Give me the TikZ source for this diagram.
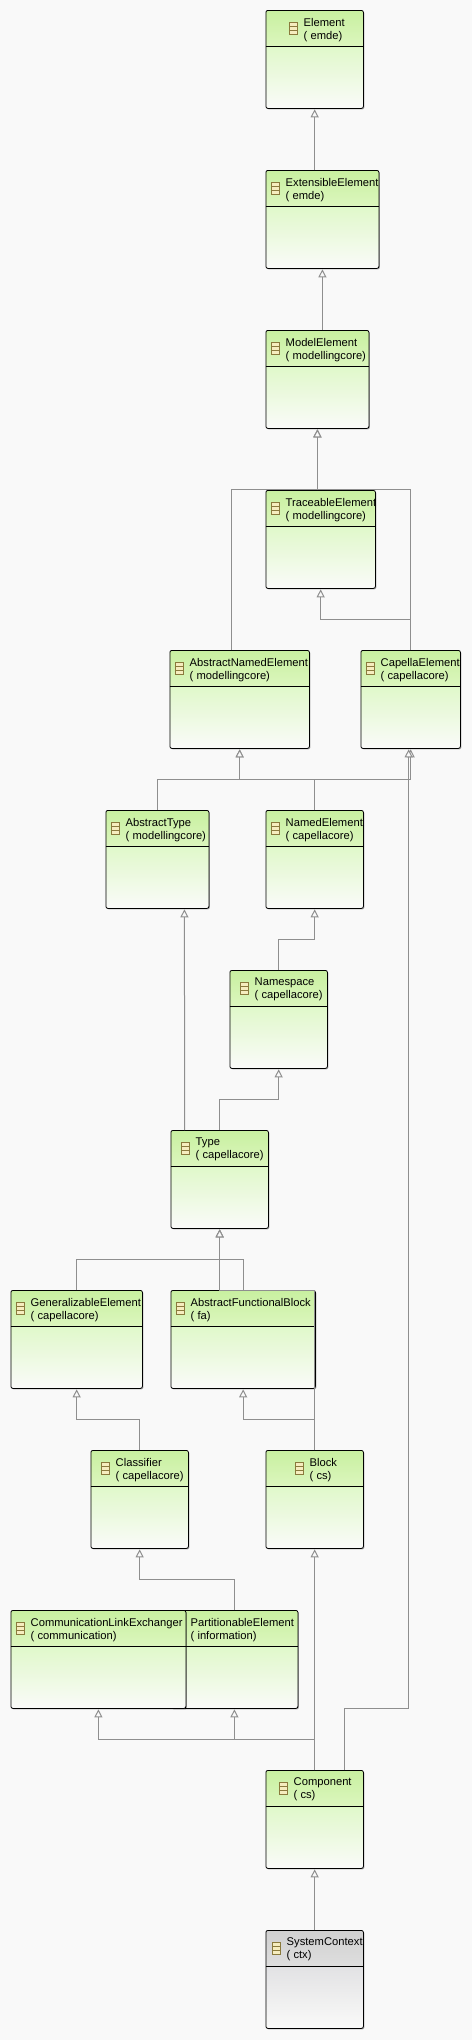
\documentclass[tikz,border=0pt]{standalone}
\usepackage{fontspec}
\usepackage{tikz}
\usetikzlibrary{arrows.meta, shadows}
\setmainfont{Liberation Sans}
\definecolor{DiagBack}{HTML}{F9F9F9}
\definecolor{LinkGray}{HTML}{8F8F8F}
\definecolor{IconFill}{HTML}{F6EDBE}
\definecolor{IconEdge}{HTML}{8A7A3C}
\definecolor{HeadTop}{HTML}{C8F0A0}
\definecolor{HeadLow}{HTML}{DCF6BE}
\definecolor{BodyTop}{HTML}{E0F9CA}
\definecolor{BodyLow}{HTML}{FAFAF9}
\definecolor{GrayTop}{HTML}{D0D0D0}
\definecolor{GrayMid}{HTML}{DEDEDE}
\definecolor{GrayBody}{HTML}{E2E2E4}
\pgfdeclareverticalshading{greenclass}{100bp}{color(0bp)=(BodyLow); color(25bp)=(BodyLow);
  color(56.6bp)=(BodyTop); color(56.61bp)=(HeadLow); color(75bp)=(HeadTop); color(100bp)=(HeadTop)}
\pgfdeclareverticalshading{grayclass}{100bp}{color(0bp)=(BodyLow); color(25bp)=(BodyLow);
  color(56.6bp)=(GrayBody); color(56.61bp)=(GrayMid); color(75bp)=(GrayTop); color(100bp)=(GrayTop)}
% name, left, top, width, icon offset, class, package
\newcommand{\classnode}[8][classbox]{
  \node[#1, minimum width=#5pt] (#2) at (#3,#4) {};
  \draw ([yshift=-36pt]#2.north west) -- ([yshift=-36pt]#2.north east);
  \node[iconbox] (#2icon) at ([xshift=#6pt,yshift=-18.5pt]#2.north west) {};
  \node[classlabel] (#2label) at ([xshift=#6pt+15pt,yshift=-19.7pt]#2.north west) {#7\\( #8)};
}

\begin{document}
\begin{tikzpicture}[x=1pt, y=-1pt,
    classbox/.style={draw=black, line width=0.8pt, rounded corners=2pt, anchor=north west,
                minimum height=98pt, inner sep=0pt, shading=greenclass,
                drop shadow={shadow xshift=1pt, shadow yshift=-1pt, opacity=0.3, fill=black}},
    contextbox/.style={classbox, shading=grayclass},
    iconbox/.style={draw=IconEdge, fill=IconFill, line width=0.7pt, anchor=west,
                minimum width=8.5pt, minimum height=12pt, inner sep=0pt,
                path picture={
                  \draw[IconEdge, line width=0.6pt]
                    ([yshift=2pt]path picture bounding box.west) -- ([yshift=2pt]path picture bounding box.east)
                    ([yshift=-2pt]path picture bounding box.west) -- ([yshift=-2pt]path picture bounding box.east);}},
    classlabel/.style={anchor=west, align=left, inner sep=0pt,
                font=\fontsize{11.2}{13}\selectfont},
    gen/.style={draw=LinkGray, line width=1pt,
                -{Triangle[open, length=8pt, width=8pt, fill=DiagBack]}, shorten >=0.5pt}]
  \fill[DiagBack] (0,0) rectangle (472,2040);
  \useasboundingbox (0,0) rectangle (472,2040);

  \classnode{element}{265.5}{10}{97.5}{23}{Element}{emde}
  \classnode{extensible}{265.5}{170}{113}{5}{ExtensibleElement}{emde}
  \classnode{model}{265.5}{330}{103}{5}{ModelElement}{modellingcore}
  \classnode{traceable}{265.5}{490}{109.5}{5}{TraceableElement}{modellingcore}
  \classnode{abstractnamed}{169.5}{650}{139.5}{5}{AbstractNamedElement}{modellingcore}
  \classnode{capella}{360.5}{650}{99.5}{5}{CapellaElement}{capellacore}
  \classnode{abstracttype}{105.5}{810}{103}{5}{AbstractType}{modellingcore}
  \classnode{named}{265.5}{810}{97.5}{5}{NamedElement}{capellacore}
  \classnode{namespace}{229.5}{970}{97.5}{10}{Namespace}{capellacore}
  \classnode{type}{170.5}{1130}{97.5}{10}{Type}{capellacore}
  \classnode{generalizable}{10.5}{1290}{131.5}{5}{GeneralizableElement}{capellacore}
  \classnode{functional}{170.5}{1290}{144.5}{5}{AbstractFunctionalBlock}{fa}
  \classnode{classifier}{90.5}{1450}{97.5}{10}{Classifier}{capellacore}
  \classnode{block}{265.5}{1450}{97.5}{29}{Block}{cs}
  \classnode{partitionable}{170.5}{1610}{127}{5}{PartitionableElement}{information}
  \classnode{communication}{10.5}{1610}{175}{5}{CommunicationLinkExchanger}{communication}
  \classnode{component}{265.5}{1770}{97.5}{13}{Component}{cs}
  \classnode[contextbox]{context}{265.5}{1930}{97.5}{6}{SystemContext}{ctx}

  \coordinate (busmodel) at (0,489.5);
  \coordinate (bustrace) at (0,619.5);
  \coordinate (busnamed) at (0,779.5);
  \coordinate (busnamespace) at (0,939.5);
  \coordinate (bustype) at (0,1099.5);
  \coordinate (busfunctional) at (0,1259.5);
  \coordinate (busclassifier) at (0,1419.5);
  \coordinate (buspartition) at (0,1579.5);
  \coordinate (buscapella) at (0,1708.5);
  \coordinate (buscomponent) at (0,1739.5);
  \coordinate (capellatip) at ([xshift=-2pt]capella.south);

  \draw[gen] (extensible.north -| element.south) -- (element.south);
  \draw[gen] (model.north -| extensible.south) -- (extensible.south);
  \draw[gen] (traceable.north -| model.south) -- (model.south);
  \draw[gen] ([xshift=-8pt]abstractnamed.north) |- (busmodel -| model.south) -- (model.south);
  \draw[gen] (capella.north) |- (busmodel -| model.south) -- (model.south);
  \draw[gen] (capella.north) |- (bustrace -| traceable.south) -- (traceable.south);

  \draw[gen] (abstracttype.north) |- (busnamed -| abstractnamed.south) -- (abstractnamed.south);
  \draw[gen] (named.north) |- (busnamed -| abstractnamed.south) -- (abstractnamed.south);
  \draw[gen] (named.north) |- (busnamed -| capella.south) -- (capella.south);
  \draw[gen] ([xshift=-35pt]type.north) -- ([xshift=27pt]abstracttype.south);
  \draw[gen] (namespace.north) |- (busnamespace -| named.south) -- (named.south);
  \draw[gen] (type.north) |- (bustype -| namespace.south) -- (namespace.south);

  \draw[gen] (generalizable.north) |- (busfunctional -| type.south) -- (type.south);
  \draw[gen] (functional.north) |- (busfunctional -| type.south) -- (type.south);
  \draw[gen] (block.north) |- (functional.north -| type.south) -- (type.south);
  \draw[gen] (classifier.north) |- (busclassifier -| generalizable.south) -- (generalizable.south);
  \draw[gen] (block.north) |- (busclassifier -| functional.south) -- (functional.south);
  \draw[gen] (partitionable.north) |- (buspartition -| classifier.south) -- (classifier.south);

  \draw[gen] (component.north) -- (block.south);
  \draw[gen] (component.north) |- (buscomponent -| partitionable.south) -- (partitionable.south);
  \draw[gen] (component.north) |- (buscomponent -| communication.south) -- (communication.south);
  \draw[gen] ([xshift=30pt]component.north) |- (buscapella -| capellatip) -- (capellatip);
  \draw[gen] (context.north) -- (component.south);
\end{tikzpicture}
\end{document}
